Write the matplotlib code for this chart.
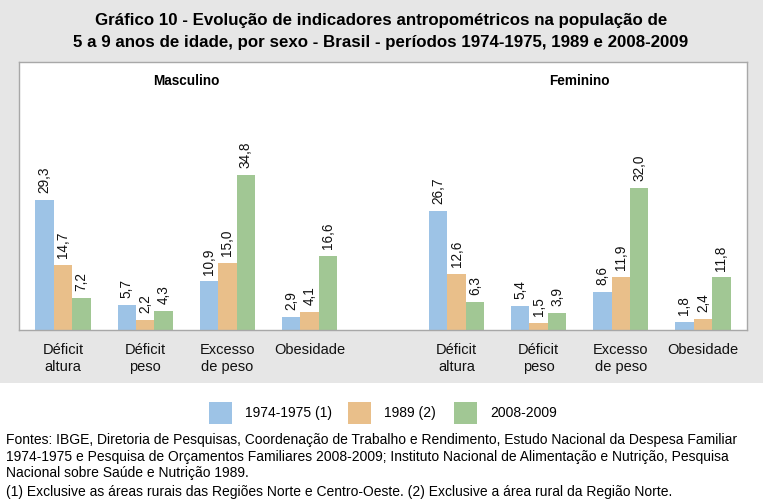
import numpy as np
import matplotlib.pyplot as plt
from matplotlib.patches import Rectangle

# Data (percent)
categories = ["Déficit\naltura", "Déficit\npeso", "Excesso\nde peso", "Obesidade"]
periods = ["1974-1975 (1)", "1989 (2)", "2008-2009"]
colors = ["#9dc3e6", "#e9bf8a", "#a1c794"]

masc_7475 = [29.3, 5.7, 10.9, 2.9]
masc_1989 = [14.7, 2.2, 15.0, 4.1]
masc_0809 = [7.2, 4.3, 34.8, 16.6]
fem_7475 = [26.7, 5.4, 8.6, 1.8]
fem_1989 = [12.6, 1.5, 11.9, 2.4]
fem_0809 = [6.3, 3.9, 32.0, 11.8]

W, H = 763, 501
fig = plt.figure(figsize=(W / 100, H / 100), dpi=100)
fig.patch.set_facecolor('white')

def fx(px):
    return px / W

def fy(py):
    return 1 - py / H

font = 'Liberation Sans'

# gray band behind the title and chart
fig.patches.append(Rectangle((0, fy(383)), 1, 383 / H, transform=fig.transFigure,
                             facecolor='#e6e6e6', edgecolor='none', zorder=-5))

ax = fig.add_axes([fx(19), fy(330), fx(747) - fx(19), (330 - 62) / H])
ax.set_zorder(2)
ax.set_facecolor('white')

gap = 1.79
x_m = np.arange(4)
x_f = np.arange(4) + 3 + gap
w = 0.225

series = [(masc_7475, fem_7475), (masc_1989, fem_1989), (masc_0809, fem_0809)]
for i, (m, f) in enumerate(series):
    off = (i - 1) * w
    for xs, vals in ((x_m, m), (x_f, f)):
        bars = ax.bar(xs + off, vals, width=w, color=colors[i], edgecolor='none', zorder=2)
        for b, v in zip(bars, vals):
            ax.annotate(f"{v:.1f}".replace('.', ','),
                        xy=(b.get_x() + b.get_width() / 2, b.get_height()),
                        xytext=(0, 5), textcoords='offset points',
                        rotation=90, ha='center', va='bottom',
                        fontsize=9.8, family=font, color='#111111')

ax.set_xlim(-0.537, x_f[-1] + 0.537)
ax.set_ylim(0, 60.2)
ax.set_yticks([])
ax.set_xticks(np.concatenate([x_m, x_f]))
ax.set_xticklabels(categories * 2, fontsize=10.5, family=font, color='#111111',
                   linespacing=1.3)
ax.tick_params(axis='x', length=0, pad=9)
for s in ax.spines.values():
    s.set_color('#a8a8a8')
    s.set_linewidth(1)

# group headers
ax.text(1.5, 0.93, 'Masculino', transform=ax.get_xaxis_transform(),
        ha='center', va='center', fontsize=9.8, fontweight='bold', family=font)
ax.text(x_f.mean(), 0.93, 'Feminino', transform=ax.get_xaxis_transform(),
        ha='center', va='center', fontsize=9.8, fontweight='bold', family=font)

# title
fig.text(fx(381), fy(21), 'Gráfico 10 - Evolução de indicadores antropométricos na população de',
         ha='center', va='center', fontsize=12.2, fontweight='bold', family=font)
fig.text(fx(381), fy(42), '5 a 9 anos de idade, por sexo - Brasil - períodos 1974-1975, 1989 e 2008-2009',
         ha='center', va='center', fontsize=12.2, fontweight='bold', family=font)

# legend
sq_x = [209, 348, 454]
for i, lab in enumerate(periods):
    fig.patches.append(Rectangle((fx(sq_x[i]), fy(424)), 23 / W, 22 / H,
                                 transform=fig.transFigure, facecolor=colors[i],
                                 edgecolor='none'))
    fig.text(fx(sq_x[i] + 36), fy(413), lab, ha='left', va='center',
             fontsize=10, family=font)

# footnotes
notes = [
    "Fontes: IBGE, Diretoria de Pesquisas, Coordenação de Trabalho e Rendimento, Estudo Nacional da Despesa Familiar",
    "1974-1975 e Pesquisa de Orçamentos Familiares 2008-2009; Instituto Nacional de Alimentação e Nutrição, Pesquisa",
    "Nacional sobre Saúde e Nutrição 1989.",
    "(1) Exclusive as áreas rurais das Regiões Norte e Centro-Oeste. (2) Exclusive a área rural da Região Norte.",
]
ys = [440, 457, 473, 492]
for t, yy in zip(notes, ys):
    fig.text(fx(6), fy(yy), t, ha='left', va='center', fontsize=10, family=font)

fig.savefig('out.png', dpi=100)
